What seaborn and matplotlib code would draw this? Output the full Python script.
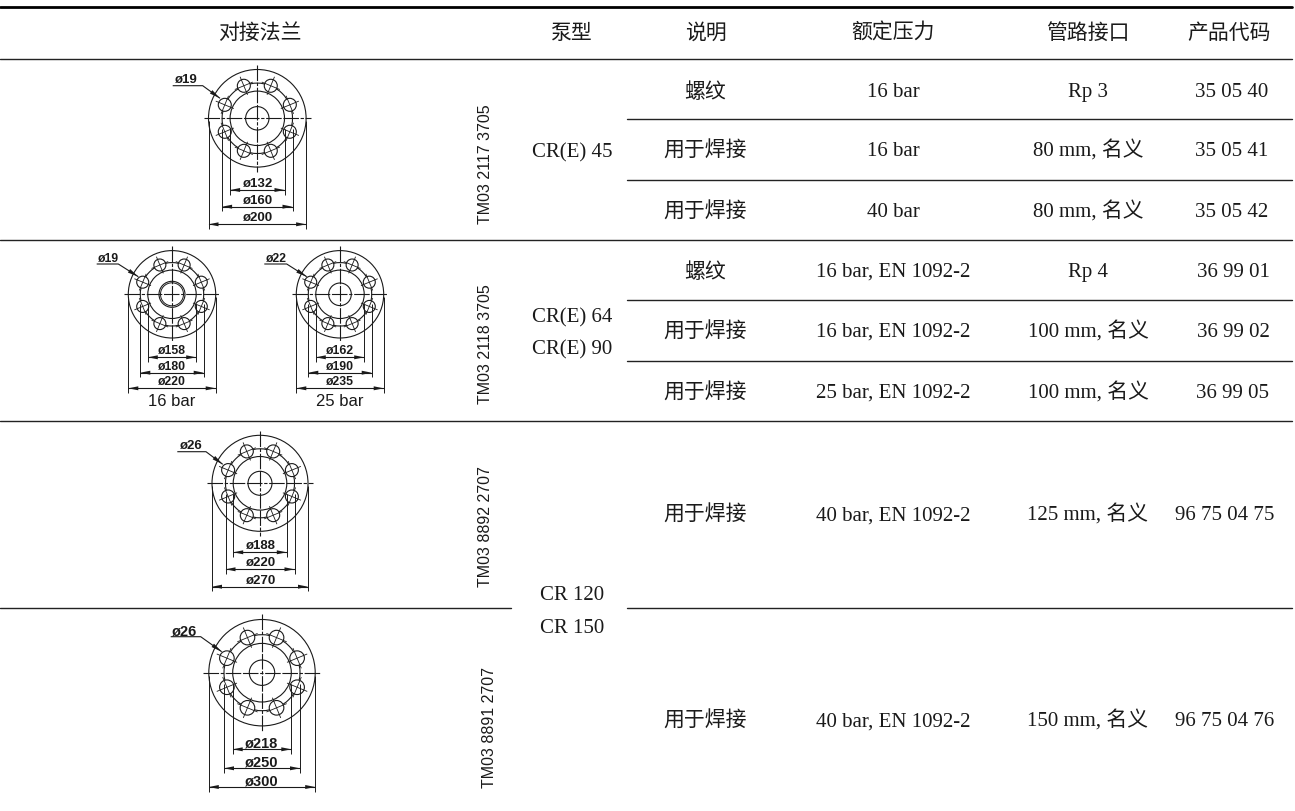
import numpy as np
import pandas as pd
import matplotlib.pyplot as plt
from matplotlib.patches import Circle
import seaborn as sns

SERIF_CJK = ['Liberation Serif', 'Noto Sans CJK SC']
SANS = 'Liberation Sans'
INK = '#1a1a1a'

# Textos de la tabla
headers = ['对接法兰', '泵型', '说明', '额定压力', '管路接口', '产品代码']
descriptions = ['螺纹', '用于焊接', '用于焊接', '螺纹', '用于焊接', '用于焊接', '用于焊接', '用于焊接']
pressures = ['16 bar', '16 bar', '40 bar', '16 bar, EN 1092-2', '16 bar, EN 1092-2',
             '25 bar, EN 1092-2', '40 bar, EN 1092-2', '40 bar, EN 1092-2']
connections = ['Rp 3', '80 mm, 名义', '80 mm, 名义', 'Rp 4', '100 mm, 名义',
               '100 mm, 名义', '125 mm, 名义', '150 mm, 名义']
codes = ['35 05 40', '35 05 41', '35 05 42', '36 99 01', '36 99 02', '36 99 05',
         '96 75 04 75', '96 75 04 76']
pumps = ['CR(E) 45', 'CR(E) 64', 'CR(E) 90', 'CR 120', 'CR 150']
drawing_codes = ['TM03 2117 3705', 'TM03 2118 3705', 'TM03 8892 2707', 'TM03 8891 2707']

# Cotas de cada brida
hole_labels = ['ø19', 'ø19', 'ø22', 'ø26', 'ø26']
inner_labels = ['ø132', 'ø158', 'ø162', 'ø188', 'ø218']
bolt_labels = ['ø160', 'ø180', 'ø190', 'ø220', 'ø250']
outer_labels = ['ø200', 'ø220', 'ø235', 'ø270', 'ø300']
pressure_notes = ['', '16 bar', '25 bar', '', '']

# Posiciones de la maqueta, en pixeles
header_x = [260, 571, 705.5, 893, 1088, 1229]
row_y = [90, 149, 210, 270, 330, 391, 513.5, 719.5]
code_x = [1232, 1232, 1232, 1233, 1233, 1233, 1225, 1225]
pump_x = 572
pump_y = [150, 315.5, 347, 593, 626]
drawing_code_x = [485, 485, 485, 490]
drawing_code_y = [164.5, 344, 526.5, 728]

cx = [257.3, 172, 340, 260, 262]
cy = [118.3, 294.3, 294.3, 483.3, 672.7]
r_outer = [48.8, 43.7, 43.7, 48, 53.2]
r_bolt = [35.2, 31.7, 31.7, 34.5, 38]
r_inner = [27.2, 24.2, 24.2, 26.8, 29.3]
r_hub = [11.7, 13, 11.3, 12, 12.7]
r_hole = [6.5, 6, 6, 6.5, 7.3]
dim_y = [[190, 206.7, 224.3], [357.3, 372.7, 388.3], [357.3, 372.7, 388.3],
         [552.3, 569.3, 586.7], [749.3, 768.3, 787]]
leader_x = [[172.7, 202.7], [96.7, 118.3], [264.3, 286.7], [177.3, 206], [170.7, 200.7]]
leader_y = [85.7, 264, 264, 451.7, 636.7]
leader_tip = [[220, 98.3], [138.3, 276.7], [306.7, 276.7], [222.7, 464.3], [221.7, 651.7]]
label_pt = [9.5, 8.8, 8.8, 9.5, 10.5]

# Reglas de la tabla: x inicial, x final, y, grosor
rules = [(0, 1292, 7, 2.0), (0, 1292, 58.5, 1.0), (627, 1292, 118.5, 1.0), (627, 1292, 180, 1.0),
         (0, 1292, 239.5, 1.0), (627, 1292, 300, 1.0), (627, 1292, 361, 1.0), (0, 1292, 421, 1.0),
         (0, 511, 607.5, 1.0), (627, 1292, 607.5, 1.0)]

sns.set_theme(style='white')
plt.rcParams['font.family'] = ['Noto Sans CJK SC', 'DejaVu Sans']

fig = plt.figure(figsize=(12.95, 8.11), dpi=100)
ax = fig.add_axes([0, 0, 1, 1])

for i, (x0, x1, y, lw) in enumerate(rules):
    rule = pd.DataFrame({'x': [x0, x1], 'y': [y, y]})
    sns.lineplot(data=rule, x='x', y='y', estimator=None, sort=False, color='black' if lw > 1 else '#222222',
                 linewidth=lw, legend=False, ax=ax)

ax.set_xlim(0, 1295)
ax.set_ylim(811, 0)
ax.axis('off')


def line(xs, ys, lw=0.75, **kw):
    ax.plot(xs, ys, color=kw.pop('color', INK), linewidth=lw, solid_capstyle='butt', **kw)


def arrow(x, y, dx, dy, length=10, width=2.0):
    # Punta de flecha rellena, (dx, dy) unitario hacia la cola
    px, py = -dy, dx
    ax.fill([x, x + dx * length + px * width, x + dx * length - px * width],
            [y, y + dy * length + py * width, y + dy * length - py * width],
            color=INK, linewidth=0, zorder=5)


def flange(i):
    x, y = cx[i], cy[i]
    R, rb, ri, rh, rc = r_outer[i], r_bolt[i], r_inner[i], r_hub[i], r_hole[i]
    pad = R * 0.1
    dash = (0, (14, 1.5, 3, 1.5, 14, 1.5))
    for rad in [R, rb, ri, rh]:
        ax.add_patch(Circle((x, y), rad, fill=False, edgecolor=INK, linewidth=0.8, zorder=2))
    if i == 1:
        ax.add_patch(Circle((x, y), rh - 1.5, fill=False, edgecolor=INK, linewidth=0.7, zorder=2))
    # Agujeros de los tornillos
    for a in np.deg2rad(22.5 + 45 * np.arange(8)):
        hx, hy = x + rb * np.cos(a), y + rb * np.sin(a)
        ax.add_patch(Circle((hx, hy), rc, facecolor='white', edgecolor=INK, linewidth=0.8, zorder=3))
        e = rc * 1.5
        line([hx - e * np.cos(a), hx + e * np.cos(a)], [hy - e * np.sin(a), hy + e * np.sin(a)], lw=0.6, zorder=4)
        line([hx + e * np.sin(a), hx - e * np.sin(a)], [hy - e * np.cos(a), hy + e * np.cos(a)], lw=0.6, zorder=4)
    # Ejes
    ax.plot([x - R - pad, x + R + pad], [y, y], color=INK, linewidth=0.8, linestyle=dash, zorder=4)
    ax.plot([x, x], [y - R - pad, y + R + pad], color=INK, linewidth=0.8, linestyle=dash, zorder=4)
    # Cotas
    radii = [ri, rb, R]
    labels = [inner_labels[i], bolt_labels[i], outer_labels[i]]
    for rad, dy, label in zip(radii, dim_y[i], labels):
        start = y + 3 if rad == R else y + rb * 0.3
        for sign in [-1, 1]:
            line([x + sign * rad, x + sign * rad], [start, dy + 4.5], lw=0.7, zorder=4)
            arrow(x + sign * rad, dy, -sign, 0)
        line([x - rad, x + rad], [dy, dy], lw=0.8, zorder=4)
        ax.text(x, dy - 6, label, family=SANS, fontweight='bold', fontsize=label_pt[i],
                ha='center', va='center', color=INK, zorder=6)
    # Etiqueta del agujero
    x0, x1 = leader_x[i]
    tip_x, tip_y = leader_tip[i]
    line([x0, x1, tip_x], [leader_y[i], leader_y[i], tip_y], lw=0.8, zorder=4)
    d = np.array([x1 - tip_x, leader_y[i] - tip_y])
    d = d / np.hypot(*d)
    arrow(tip_x, tip_y, d[0], d[1], length=11, width=2.1)
    ax.text(x0 + 1.5, leader_y[i] - 5.5, hole_labels[i], family=SANS, fontweight='bold',
            fontsize=label_pt[i], ha='left', va='center', color=INK, zorder=6)
    if pressure_notes[i]:
        ax.text(x, 402, pressure_notes[i], family=SANS, fontsize=12, ha='center', va='center', color=INK)


for i in range(len(cx)):
    flange(i)

for x, label in zip(header_x, headers):
    ax.text(x, 33, label, fontsize=15, fontweight='medium', ha='center', va='center', color=INK)

for i, y in enumerate(row_y):
    ax.text(header_x[2], y + 1.5, descriptions[i], fontsize=15, fontweight='medium', ha='center', va='center', color=INK)
    ax.text(header_x[3], y + 2.5, pressures[i], family=SERIF_CJK, fontsize=15, ha='center', va='center', color=INK)
    ax.text(header_x[4], y + 2, connections[i], family=SERIF_CJK, fontsize=15, ha='center', va='center', color=INK)
    ax.text(code_x[i], y + 2.5, codes[i], family=SERIF_CJK, fontsize=15, ha='center', va='center', color=INK)

for y, label in zip(pump_y, pumps):
    ax.text(pump_x, y + 2.5, label, family=SERIF_CJK, fontsize=15, ha='center', va='center', color=INK)

for x, y, label in zip(drawing_code_x, drawing_code_y, drawing_codes):
    ax.text(x, y, label, family=SANS, fontsize=11.5, rotation=90, ha='center', va='center', color=INK)

plt.savefig('out.png', dpi=100)
